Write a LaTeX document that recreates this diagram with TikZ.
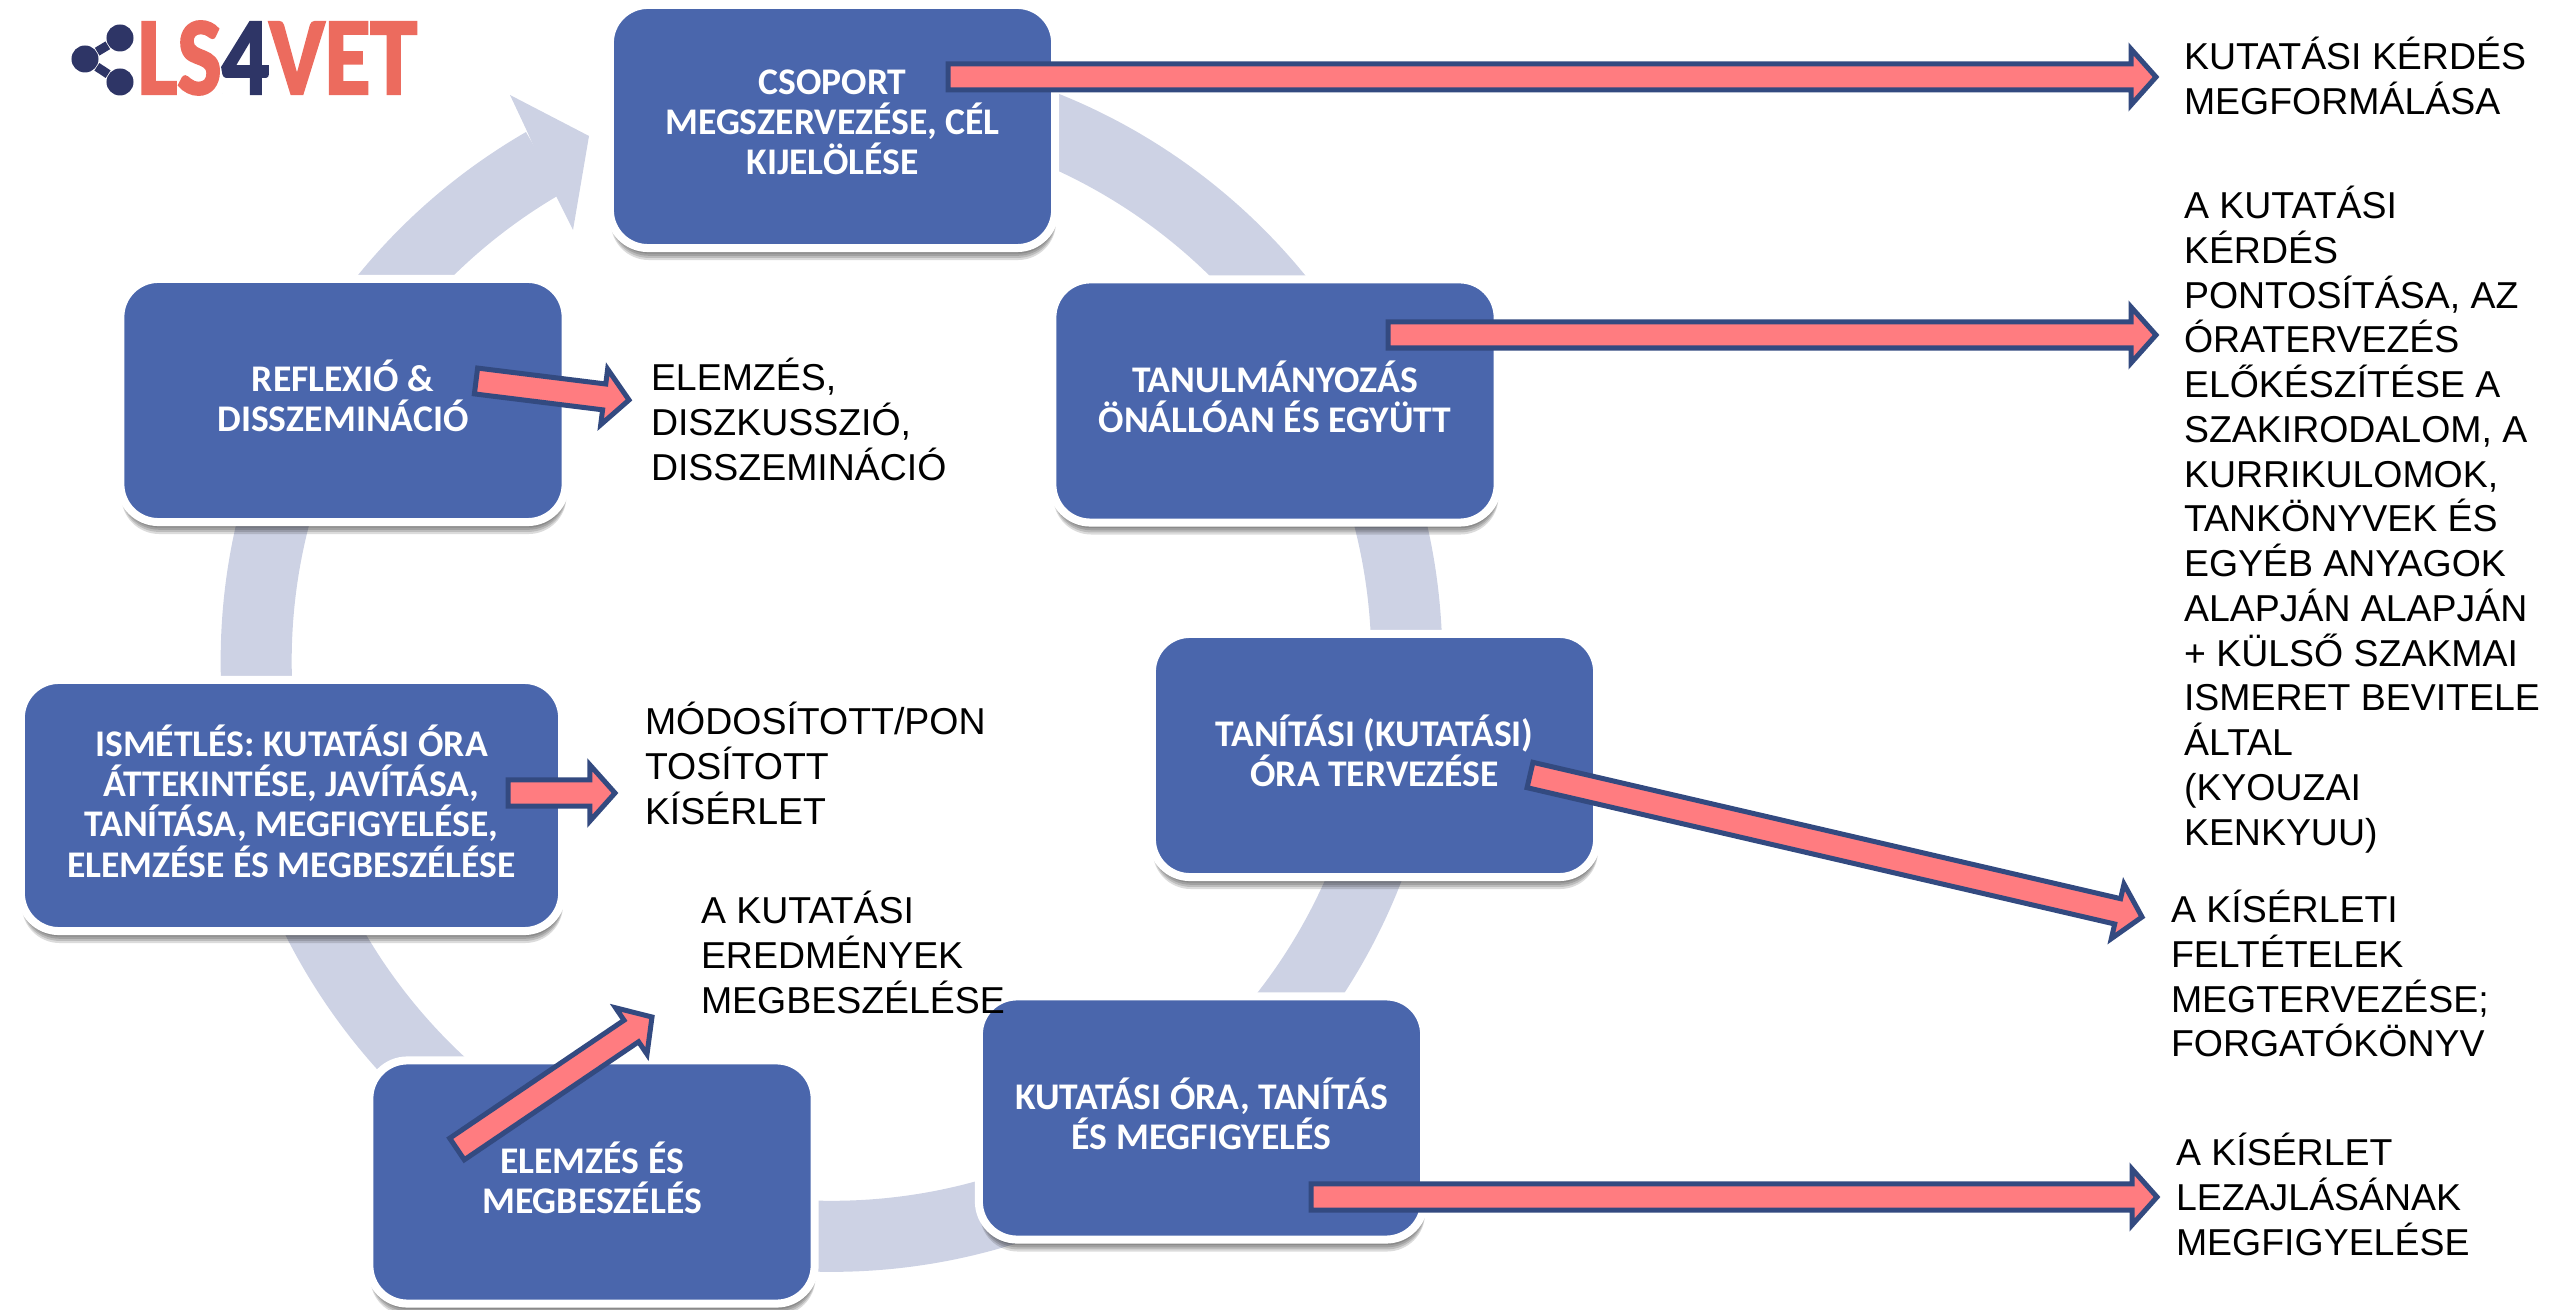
\documentclass[tikz,border=0pt]{standalone}
\usepackage{fontspec}
\setmainfont{Liberation Sans}
\newfontfamily\boxfont{Carlito}
\newfontfamily\logofont[BoldFeatures={FakeBold=2.5}]{Carlito}
\usetikzlibrary{calc,shadows}
\definecolor{ringcol}{HTML}{CDD2E4}
\definecolor{boxcol}{HTML}{4A66AC}
\definecolor{pinkcol}{HTML}{FF7C80}
\definecolor{navycol}{HTML}{334A80}
\definecolor{logored}{HTML}{EC6B5E}
\definecolor{logonavy}{HTML}{2E3566}
\tikzset{
  softshadow/.style={drop shadow={shadow xshift=0.25pt,shadow yshift=-#1,fill=black,opacity=0.14}},
  cyclebox/.style={rectangle,rounded corners=0.38cm,fill=boxcol,draw=white,line width=0.08cm,
    minimum width=4.45cm,minimum height=2.43cm,inner sep=0pt,outer sep=0pt,align=center,text=white,
    font=\boxfont\bfseries\fontsize{10.7}{11.4}\selectfont,
    execute at end node={\rule[-2.5pt]{0pt}{0pt}},
    softshadow=3.4pt,softshadow=2.8pt,softshadow=2.2pt,softshadow=1.6pt},
  notetext/.style={anchor=north west,align=left,inner sep=0pt,outer sep=0pt,
    font=\fontsize{10.65}{12.73}\selectfont},
  blockstyle/.style={fill=pinkcol,draw=navycol,line width=0.05cm},
  logodot/.style={circle,fill=logonavy,minimum size=0.27cm,inner sep=0pt}
}
% block arrow from tail to tip
\newcommand{\blockarrow}[2]{%
  \coordinate (hb) at ($(#2)!0.25cm!(#1)$);
  \filldraw[blockstyle] ($(#1)!0.13cm!90:(#2)$) -- ($(hb)!0.13cm!90:(#2)$) -- ($(hb)!0.28cm!90:(#2)$)
    -- (#2) -- ($(hb)!0.28cm!-90:(#2)$) -- ($(hb)!0.13cm!-90:(#2)$) -- ($(#1)!0.13cm!-90:(#2)$) -- cycle;
}
\begin{document}
\begin{tikzpicture}[x=0.01cm,y=-0.01cm]
  \useasboundingbox (0,0) rectangle (2552,1310);
  % Ring
  \coordinate (ringc) at (831.5,661);
  \draw[ringcol,line width=0.71cm] (ringc) ++(90:5.75cm) arc[start angle=90,end angle=-240,radius=5.75cm];
  \fill[ringcol] (510,95) -- (589,136) -- (573,230) -- (556,196) -- (526,129) -- cycle;
  % Logo
  \node[logodot] (sharetop) at (120,38) {};
  \node[logodot] (shareleft) at (85,59) {};
  \node[logodot] (sharebot) at (120,82) {};
  \draw[logonavy,line width=0.09cm] (sharetop) -- (shareleft) -- (sharebot);
  \node[anchor=west,inner sep=0pt,xscale=0.85,transform shape,font=\logofont\bfseries\fontsize{31.4}{32}\selectfont,text=logored]
    (logo) at (137,58) {LS\textcolor{logonavy}{4}VET};
  % Cycle boxes
  \node[cyclebox] (csoport) at (832.5,126.5) {CSOPORT\\MEGSZERVEZÉSE, CÉL\\KIJELÖLÉSE};
  \node[cyclebox] (tanulm) at (1275,401) {TANULMÁNYOZÁS\\ÖNÁLLÓAN ÉS EGYÜTT};
  \node[cyclebox] (tanitasi) at (1374.5,755.5) {TANÍTÁSI (KUTATÁSI)\\ÓRA TERVEZÉSE};
  \node[cyclebox] (kutatasi) at (1201.5,1118) {KUTATÁSI ÓRA, TANÍTÁS\\ÉS MEGFIGYELÉS};
  \node[cyclebox] (elemzes) at (592,1182) {ELEMZÉS ÉS\\MEGBESZÉLÉS};
  \node[cyclebox,minimum width=5.41cm,minimum height=2.51cm] (ismetles) at (291.5,805.5)
    {ISMÉTLÉS: KUTATÁSI ÓRA\\ÁTTEKINTÉSE, JAVÍTÁSA,\\TANÍTÁSA, MEGFIGYELÉSE,\\ELEMZÉSE ÉS MEGBESZÉLÉSE};
  \node[cyclebox] (reflexio) at (343,400.5) {REFLEXIÓ \&\\DISSZEMINÁCIÓ};
  % Notes
  \node[notetext] (n1) at (2184,37) {KUTATÁSI KÉRDÉS\\MEGFORMÁLÁSA};
  \node[notetext] (n2) at (2184,186) {A KUTATÁSI\\KÉRDÉS\\PONTOSÍTÁSA, AZ\\ÓRATERVEZÉS\\ELŐKÉSZÍTÉSE A\\SZAKIRODALOM, A\\KURRIKULOMOK,\\TANKÖNYVEK ÉS\\EGYÉB ANYAGOK\\ALAPJÁN ALAPJÁN\\+ KÜLSŐ SZAKMAI\\ISMERET BEVITELE\\ÁLTAL\\(KYOUZAI\\KENKYUU)};
  \node[notetext] (n3) at (2171,890) {A KÍSÉRLETI\\FELTÉTELEK\\MEGTERVEZÉSE;\\FORGATÓKÖNYV};
  \node[notetext] (n4) at (2176,1133) {A KÍSÉRLET\\LEZAJLÁSÁNAK\\MEGFIGYELÉSE};
  \node[notetext] (n5) at (701,891) {A KUTATÁSI\\EREDMÉNYEK\\MEGBESZÉLÉSE};
  \node[notetext] (n6) at (645,702) {MÓDOSÍTOTT/PON\\TOSÍTOTT\\KÍSÉRLET};
  \node[notetext] (n7) at (651,358) {ELEMZÉS,\\DISZKUSSZIÓ,\\DISSZEMINÁCIÓ};
  % Block arrows
  \coordinate (a1s) at (948,77);    \coordinate (a1e) at (2156,77);
  \coordinate (a2s) at (1388,335);  \coordinate (a2e) at (2156,335);
  \coordinate (a3s) at (1530,775);  \coordinate (a3e) at (2142,917);
  \coordinate (a4s) at (1311,1197); \coordinate (a4e) at (2157,1197);
  \coordinate (a5s) at (457,1149);  \coordinate (a5e) at (652,1017);
  \coordinate (a6s) at (508,793);   \coordinate (a6e) at (615,793);
  \coordinate (a7s) at (476,381);   \coordinate (a7e) at (629,400);
  \blockarrow{a1s}{a1e}
  \blockarrow{a2s}{a2e}
  \blockarrow{a3s}{a3e}
  \blockarrow{a4s}{a4e}
  \blockarrow{a5s}{a5e}
  \blockarrow{a6s}{a6e}
  \blockarrow{a7s}{a7e}
\end{tikzpicture}
\end{document}
